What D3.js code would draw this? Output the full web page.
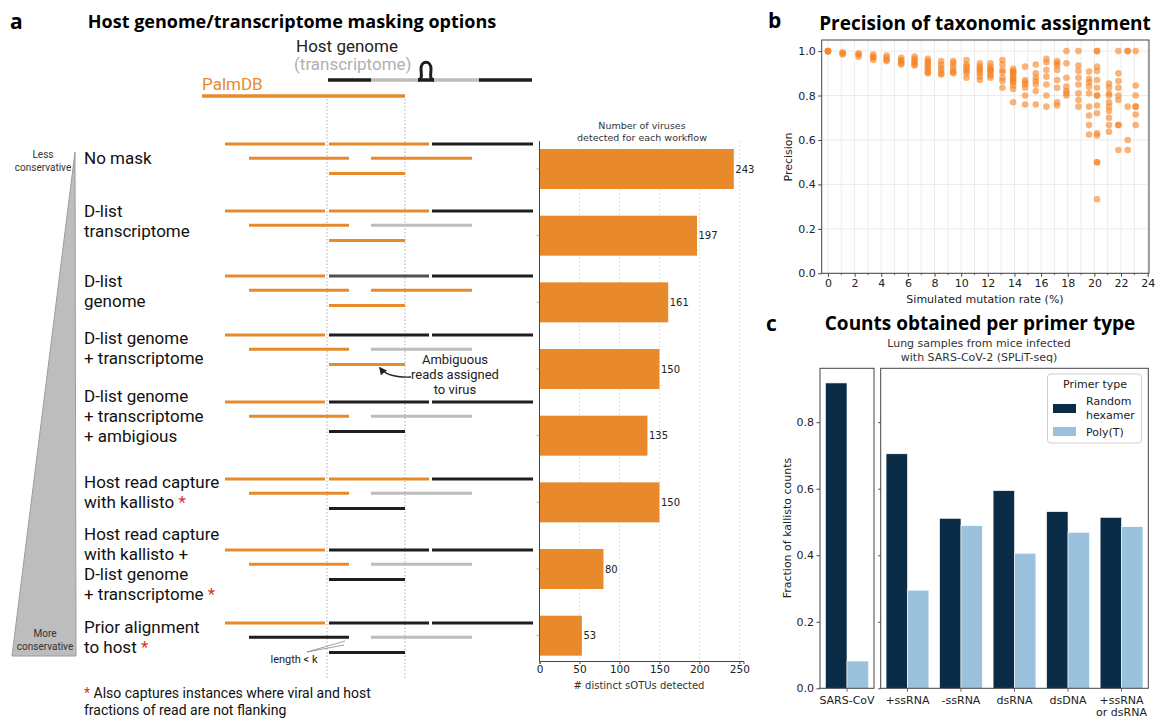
<!DOCTYPE html>
<html>
<head>
<meta charset="utf-8">
<script src="https://cdn.jsdelivr.net/npm/d3@7/dist/d3.min.js"></script>
<style>
  html, body { margin: 0; padding: 0; background: #fff; }
  svg { display: block; }
</style>
</head>
<body>
<svg id="figure" width="1159" height="719"></svg>
<script>
// ---------------- Panel a: masking workflows ----------------
const workflowLabels = [
  ["No mask"],
  ["D-list", "transcriptome"],
  ["D-list", "genome"],
  ["D-list genome", "+ transcriptome"],
  ["D-list genome", "+ transcriptome", "+ ambigious"],
  ["Host read capture", "with kallisto"],
  ["Host read capture", "with kallisto +", "D-list genome", "+ transcriptome"],
  ["Prior alignment", "to host"]
];
const workflowStarred = [false, false, false, false, false, true, true, true];
const sotusDetected = [243, 197, 161, 150, 135, 150, 80, 53];
const sotuTicks = [0, 50, 100, 150, 200, 250];
// Fate of each schematic read fragment under each workflow
// (v = viral, h = host genome, t = host transcriptome, m = masked genome)
const readFates = [
  ["v", "v", "h", "v", "v", "v"],
  ["v", "v", "h", "v", "t", "v"],
  ["v", "m", "h", "v", "v", "v"],
  ["v", "h", "h", "v", "t", "v"],
  ["v", "h", "h", "v", "t", "h"],
  ["v", "v", "h", "v", "t", "h"],
  ["v", "h", "h", "v", "t", "h"],
  ["v", "h", "h", "h", "t", "h"]
];

// ---------------- Panel b: precision vs mutation rate ----------------
const mutationRates = [0, 1.1, 2.3, 3.4, 4.4, 5.5, 6.5, 7.5, 8.5, 9.4, 10.4, 11.4, 12.2,
  13.1, 13.9, 14.8, 15.6, 16.4, 17.2, 17.9, 18.8, 19.6, 20.2, 21.1, 21.8, 22.5, 23.1];
const precisionValues = [
  [1.0, 1.0, 1.0, 0.998],
  [0.995, 0.99, 0.985],
  [0.99, 0.985, 0.975],
  [0.985, 0.975, 0.97, 0.96],
  [0.98, 0.97, 0.96, 0.955],
  [0.97, 0.96, 0.955, 0.945, 0.94],
  [0.975, 0.965, 0.955, 0.95, 0.94, 0.935],
  [0.965, 0.955, 0.945, 0.935, 0.925, 0.915, 0.905, 0.9],
  [0.955, 0.94, 0.925, 0.915, 0.9, 0.895],
  [0.955, 0.945, 0.93, 0.915, 0.905, 0.9],
  [0.96, 0.94, 0.93, 0.92, 0.91, 0.9, 0.88],
  [0.945, 0.93, 0.92, 0.91, 0.9, 0.885, 0.87],
  [0.945, 0.93, 0.92, 0.915, 0.91, 0.9, 0.89, 0.88],
  [0.96, 0.94, 0.915, 0.905, 0.88, 0.865, 0.835],
  [0.92, 0.91, 0.905, 0.9, 0.89, 0.88, 0.875, 0.865, 0.86, 0.845, 0.83, 0.77],
  [0.93, 0.87, 0.86, 0.85, 0.835, 0.8, 0.76],
  [0.94, 0.9, 0.88, 0.865, 0.85, 0.82, 0.76],
  [0.965, 0.95, 0.915, 0.885, 0.85, 0.8, 0.75],
  [0.955, 0.945, 0.935, 0.915, 0.87, 0.835, 0.77, 0.755],
  [1.0, 0.945, 0.88, 0.84, 0.82, 0.81, 0.8],
  [1.0, 0.935, 0.91, 0.88, 0.85, 0.81, 0.78, 0.75],
  [0.908, 0.875, 0.86, 0.84, 0.81, 0.75, 0.71, 0.667, 0.625],
  [1.0, 1.0, 0.93, 0.91, 0.87, 0.835, 0.8, 0.8, 0.755, 0.72, 0.63, 0.62, 0.5, 0.5, 0.333],
  [0.854, 0.836, 0.81, 0.8, 0.77, 0.75, 0.73, 0.7, 0.667, 0.637],
  [1.0, 0.9, 0.865, 0.835, 0.8, 0.78, 0.667, 0.667, 0.555],
  [1.0, 1.0, 0.75, 0.6, 0.555],
  [1.0, 0.845, 0.8, 0.75, 0.75, 0.715, 0.667]
];
const rateTicks = d3.range(0, 25, 2);
const precisionTicks = [0, 0.2, 0.4, 0.6, 0.8, 1.0];

// ---------------- Panel c: counts per primer type ----------------
const virusGroupsLeft = ["SARS-CoV"];
const virusGroupsRight = ["+ssRNA", "-ssRNA", "dsRNA", "dsDNA", "+ssRNA\nor dsRNA"];
const randomHexamerFrac = [0.918, 0.705, 0.511, 0.594, 0.531, 0.514];
const polyTFrac = [0.082, 0.295, 0.489, 0.406, 0.469, 0.486];
const fractionTicks = [0, 0.2, 0.4, 0.6, 0.8];
const primerTypes = ["Random\nhexamer", "Poly(T)"];

// ---------------- shared styling ----------------
const svg = d3.select("#figure");
const F_ROBOTO = "Roboto, 'Liberation Sans', Arial, sans-serif";
const F_MPL = "'DejaVu Sans', Verdana, sans-serif";
const F_TITLE = "'Open Sans', 'DejaVu Sans', sans-serif";
const ORANGE = "#e88a2c";
const NAVY = "#0a2c47";
const LIGHTBLUE = "#9ac2dc";
const AXIS = "#444";
const fateColor = { v: ORANGE, h: "#1e1e1e", t: "#bdbdbd", m: "#505050" };

function textLines(g, x, y, lines, gap) {
  const t = g.append("text").attr("x", x).attr("y", y).attr("dominant-baseline", "central");
  lines.forEach((s, i) => t.append("tspan").attr("x", x).attr("y", y + i * gap).text(s));
  return t;
}

// panel letters and titles
[["a", 10, 21], ["b", 768, 20], ["c", 766, 323]].forEach(([s, x, y]) => {
  svg.append("text").attr("x", x).attr("y", y).attr("dominant-baseline", "central")
    .attr("font-family", F_TITLE).attr("font-weight", 700).attr("font-size", 21).text(s);
});
[["Host genome/transcriptome masking options", 292, 21, 18],
 ["Precision of taxonomic assignment", 985, 23, 19],
 ["Counts obtained per primer type", 980, 323, 19]].forEach(([s, x, y, fs]) => {
  svg.append("text").attr("x", x).attr("y", y).attr("dominant-baseline", "central")
    .attr("text-anchor", "middle").attr("font-family", F_TITLE).attr("font-weight", 700)
    .attr("font-size", fs).text(s);
});

// ================= Panel a: schematic =================
const gA = svg.append("g");
// schematic coordinate along the reference (PalmDB starts at 0)
const diagX = d3.scaleLinear().domain([0, 330]).range([202, 532]);
const junctions = [125, 203];
const readSpans = [[23, 123], [127, 227], [230, 331], [47, 147], [169, 270], [127, 203]];
const readLevel = [0, 0, 0, 1, 1, 2];
const levelOffset = [0, 14.3, 29.6];
const rowTop = [144, 211, 276, 335, 402, 479, 550, 623];
const labelTop = [158, 211, 281, 338, 396, 482, 534, 627];

// dotted guides at the viral / host junctions
junctions.forEach(u => {
  gA.append("line").attr("x1", diagX(u)).attr("x2", diagX(u)).attr("y1", 99).attr("y2", 680)
    .attr("stroke", "#9a9a9a").attr("stroke-width", 0.8).attr("stroke-dasharray", "1.5,2");
});

// header: host genome with transcript loop, and PalmDB reference
gA.append("text").attr("x", 296).attr("y", 46).attr("dominant-baseline", "central")
  .attr("font-family", F_ROBOTO).attr("font-size", 17).attr("fill", "#222").text("Host genome");
gA.append("text").attr("x", 294).attr("y", 64).attr("dominant-baseline", "central")
  .attr("font-family", F_ROBOTO).attr("font-size", 17).attr("fill", "#b0b0b0").text("(transcriptome)");
const hostY = 80;
const hostParts = [[126, 169, "h"], [169, 216, "t"], [216, 232, "h"], [232, 277, "t"], [277, 330, "h"]];
hostParts.forEach(([a, b, f]) => {
  gA.append("line").attr("x1", diagX(a)).attr("x2", diagX(b)).attr("y1", hostY).attr("y2", hostY)
    .attr("stroke", fateColor[f]).attr("stroke-width", 3.5);
});
gA.append("path")
  .attr("d", `M${diagX(216)},${hostY} C${diagX(221)},${hostY} ${diagX(219)},${hostY - 7} ${diagX(219)},${hostY - 11} ` +
             `C${diagX(219)},${hostY - 20} ${diagX(229)},${hostY - 20} ${diagX(229)},${hostY - 11} ` +
             `C${diagX(229)},${hostY - 7} ${diagX(227)},${hostY} ${diagX(232)},${hostY}`)
  .attr("fill", "none").attr("stroke", "#1e1e1e").attr("stroke-width", 3);
gA.append("text").attr("x", diagX(0)).attr("y", 84).attr("dominant-baseline", "central")
  .attr("font-family", F_ROBOTO).attr("font-size", 17).attr("fill", ORANGE).text("PalmDB");
gA.append("line").attr("x1", diagX(0)).attr("x2", diagX(203)).attr("y1", 96).attr("y2", 96)
  .attr("stroke", ORANGE).attr("stroke-width", 3.5);

// reads for each workflow
readFates.forEach((fates, r) => {
  fates.forEach((f, k) => {
    const y = rowTop[r] + levelOffset[readLevel[k]];
    gA.append("line").attr("x1", diagX(readSpans[k][0])).attr("x2", diagX(readSpans[k][1]))
      .attr("y1", y).attr("y2", y).attr("stroke", fateColor[f]).attr("stroke-width", 3);
  });
});

// conservativeness wedge
gA.append("path").attr("d", "M75,152 L76,656 L12,656 Z")
  .attr("fill", "#bdbdbd").attr("stroke", "#9c9c9c").attr("stroke-width", 1);
textLines(gA, 43, 154, ["Less", "conservative"], 12.5).attr("text-anchor", "middle")
  .attr("font-family", F_ROBOTO).attr("font-size", 10).attr("fill", "#333");
textLines(gA, 45, 633, ["More", "conservative"], 12.5).attr("text-anchor", "middle")
  .attr("font-family", F_ROBOTO).attr("font-size", 10).attr("fill", "#333");

// workflow names
workflowLabels.forEach((lines, r) => {
  const t = textLines(gA, 84, labelTop[r], lines, 20)
    .attr("font-family", F_ROBOTO).attr("font-size", 17).attr("fill", "#111");
  if (workflowStarred[r]) {
    t.select("tspan:last-child").append("tspan").attr("fill", "#d9342b").text(" *");
  }
});

// annotation for ambiguous reads
textLines(gA, 455, 359, ["Ambiguous", "reads assigned", "to virus"], 15)
  .attr("text-anchor", "middle").attr("font-family", F_ROBOTO).attr("font-size", 13).attr("fill", "#222");
svg.append("defs").append("marker").attr("id", "head").attr("viewBox", "0 0 10 10")
  .attr("refX", 8).attr("refY", 5).attr("markerWidth", 6).attr("markerHeight", 6).attr("orient", "auto")
  .append("path").attr("d", "M0,0 L10,5 L0,10 Z").attr("fill", "#222");
gA.append("path").attr("d", "M411,377 Q388,378 380,368").attr("fill", "none")
  .attr("stroke", "#222").attr("stroke-width", 1.3).attr("marker-end", "url(#head)");

// "length < k" callout
gA.append("text").attr("x", 294).attr("y", 659).attr("text-anchor", "middle")
  .attr("dominant-baseline", "central").attr("font-family", F_ROBOTO).attr("font-size", 11)
  .attr("fill", "#222").text("length < k");
[[345, 641], [344, 645]].forEach(([x, y]) => {
  gA.append("line").attr("x1", 307).attr("y1", 652).attr("x2", x).attr("y2", y)
    .attr("stroke", "#888").attr("stroke-width", 0.8);
});

// footnote
const foot = textLines(gA, 84, 693, ["", "fractions of read are not flanking"], 17)
  .attr("font-family", F_ROBOTO).attr("font-size", 14).attr("fill", "#111");
const first = foot.select("tspan");
first.append("tspan").attr("fill", "#d9342b").text("*");
first.append("tspan").text(" Also captures instances where viral and host");

// ================= Panel a: bar chart =================
const gBar = svg.append("g");
const xA = d3.scaleLinear().domain([0, 255.15]).range([539.5, 743.5]);
const yA = d3.scaleLinear().domain([-0.42, 7.38]).range([141, 661]);
sotuTicks.filter(v => v > 0).forEach(v => {
  gBar.append("line").attr("x1", xA(v)).attr("x2", xA(v)).attr("y1", yA(-0.42)).attr("y2", yA(7.38))
    .attr("stroke", "#d5d5d5").attr("stroke-width", 0.8).attr("stroke-dasharray", "2,2");
});
gBar.selectAll("rect.bar").data(sotusDetected).join("rect").attr("class", "bar")
  .attr("x", xA(0)).attr("y", (d, i) => yA(i - 0.3))
  .attr("width", d => xA(d) - xA(0)).attr("height", (d, i) => yA(i + 0.3) - yA(i - 0.3))
  .attr("fill", ORANGE);
gBar.selectAll("text.val").data(sotusDetected).join("text").attr("class", "val")
  .attr("x", d => xA(d) + 1.5).attr("y", (d, i) => yA(i)).attr("dominant-baseline", "central")
  .attr("font-family", F_MPL).attr("font-size", 10).attr("fill", "#222").text(d => d);
// left spine with small ticks at each workflow
gBar.append("line").attr("x1", xA(0)).attr("x2", xA(0)).attr("y1", yA(-0.42)).attr("y2", yA(7.38))
  .attr("stroke", AXIS).attr("stroke-width", 1);
sotusDetected.forEach((d, i) => {
  gBar.append("line").attr("x1", xA(0) - 3).attr("x2", xA(0)).attr("y1", yA(i)).attr("y2", yA(i))
    .attr("stroke", "#888").attr("stroke-width", 0.6);
});
const axA = gBar.append("g").attr("transform", `translate(0,${yA(7.38)})`)
  .call(d3.axisBottom(xA).tickValues(sotuTicks).tickSize(3).tickPadding(2));
axA.select(".domain").attr("stroke", AXIS);
axA.selectAll(".tick line").attr("stroke", AXIS);
axA.selectAll(".tick text").attr("font-family", F_MPL).attr("font-size", 10.5).attr("fill", "#222");
gBar.append("text").attr("x", 639).attr("y", 685).attr("text-anchor", "middle")
  .attr("dominant-baseline", "central").attr("font-family", F_MPL).attr("font-size", 10)
  .attr("fill", "#333").text("# distinct sOTUs detected");
textLines(gBar, 642, 125, ["Number of viruses", "detected for each workflow"], 11.5)
  .attr("text-anchor", "middle").attr("font-family", F_MPL).attr("font-size", 9.5).attr("fill", "#333");

// ================= Panel b: scatter =================
const gB = svg.append("g");
const xB = d3.scaleLinear().domain([-0.47, 24.1]).range([821.7, 1149]);
const yB = d3.scaleLinear().domain([0, 1.05]).range([273.3, 40]);
d3.range(0, 25).forEach(v => {
  gB.append("line").attr("x1", xB(v)).attr("x2", xB(v)).attr("y1", yB(0)).attr("y2", yB(1.05))
    .attr("stroke", "#ececec").attr("stroke-width", 1);
});
precisionTicks.forEach(v => {
  gB.append("line").attr("x1", xB(-0.47)).attr("x2", xB(24.1)).attr("y1", yB(v)).attr("y2", yB(v))
    .attr("stroke", "#ececec").attr("stroke-width", 1);
});
const points = [];
mutationRates.forEach((r, i) => precisionValues[i].forEach(p => points.push([r, p])));
gB.selectAll("circle").data(points).join("circle")
  .attr("cx", d => xB(d[0])).attr("cy", d => yB(d[1])).attr("r", 3.3)
  .attr("fill", "#f5821f").attr("fill-opacity", 0.6);
gB.append("rect").attr("x", xB(-0.47)).attr("y", yB(1.05)).attr("width", xB(24.1) - xB(-0.47))
  .attr("height", yB(0) - yB(1.05)).attr("fill", "none").attr("stroke", AXIS).attr("stroke-width", 1);
const axBx = gB.append("g").attr("transform", `translate(0,${yB(0)})`)
  .call(d3.axisBottom(xB).tickValues(rateTicks).tickSize(3.5).tickPadding(2.5));
axBx.select(".domain").remove();
d3.range(1, 24, 2).forEach(v => {
  gB.append("line").attr("x1", xB(v)).attr("x2", xB(v)).attr("y1", yB(0)).attr("y2", yB(0) + 2)
    .attr("stroke", AXIS).attr("stroke-width", 0.8);
});
const axBy = gB.append("g").attr("transform", `translate(${xB(-0.47)},0)`)
  .call(d3.axisLeft(yB).tickValues(precisionTicks).tickFormat(d3.format(".1f")).tickSize(3.5).tickPadding(2.5));
axBy.select(".domain").remove();
[axBx, axBy].forEach(a => {
  a.selectAll(".tick line").attr("stroke", AXIS);
  a.selectAll(".tick text").attr("font-family", F_MPL).attr("font-size", 11).attr("fill", "#222");
});
gB.append("text").attr("x", 985).attr("y", 299).attr("text-anchor", "middle")
  .attr("dominant-baseline", "central").attr("font-family", F_MPL).attr("font-size", 11)
  .attr("fill", "#222").text("Simulated mutation rate (%)");
gB.append("text").attr("transform", `translate(788,157) rotate(-90)`).attr("text-anchor", "middle")
  .attr("dominant-baseline", "central").attr("font-family", F_MPL).attr("font-size", 11)
  .attr("fill", "#222").text("Precision");

// ================= Panel c: grouped bars =================
const gC = svg.append("g");
const yC = d3.scaleLinear().domain([0, 0.962]).range([688.3, 368.3]);
textLines(gC, 979, 343, ["Lung samples from mice infected", "with SARS-CoV-2 (SPLiT-seq)"], 13.5)
  .attr("text-anchor", "middle").attr("font-family", F_MPL).attr("font-size", 11).attr("fill", "#333");

function groupedPanel(groups, offset, x0, x1, pad, withLabels) {
  const g = gC.append("g");
  const x = d3.scaleBand().domain(groups).range([x0, x1]).paddingInner(0.2).paddingOuter(pad);
  groups.forEach((grp, i) => {
    const k = offset + i;
    const half = x.bandwidth() / 2;
    g.append("rect").attr("x", x(grp)).attr("y", yC(randomHexamerFrac[k])).attr("width", half)
      .attr("height", yC(0) - yC(randomHexamerFrac[k])).attr("fill", NAVY)
      .attr("stroke", "#ffffff").attr("stroke-width", 0.6);
    g.append("rect").attr("x", x(grp) + half).attr("y", yC(polyTFrac[k])).attr("width", half)
      .attr("height", yC(0) - yC(polyTFrac[k])).attr("fill", LIGHTBLUE)
      .attr("stroke", "#ffffff").attr("stroke-width", 0.6);
    const cx = x(grp) + half;
    g.append("line").attr("x1", cx).attr("x2", cx).attr("y1", yC(0)).attr("y2", yC(0) + 3.5)
      .attr("stroke", AXIS).attr("stroke-width", 0.8);
    textLines(g, cx, 699.5, grp.split("\n"), 12.5).attr("text-anchor", "middle")
      .attr("font-family", F_MPL).attr("font-size", 11).attr("fill", "#222");
  });
  g.append("rect").attr("x", x0).attr("y", yC(0.962)).attr("width", x1 - x0)
    .attr("height", yC(0) - yC(0.962)).attr("fill", "none").attr("stroke", AXIS).attr("stroke-width", 1);
  const ay = g.append("g").attr("transform", `translate(${x0},0)`)
    .call(d3.axisLeft(yC).tickValues(fractionTicks).tickFormat(withLabels ? d3.format(".1f") : () => "")
      .tickSize(withLabels ? 3.5 : 2.5).tickPadding(2.5));
  ay.select(".domain").remove();
  ay.selectAll(".tick line").attr("stroke", AXIS);
  ay.selectAll(".tick text").attr("font-family", F_MPL).attr("font-size", 11).attr("fill", "#222");
}
groupedPanel(virusGroupsLeft, 0, 820, 874, 0.08, true);
groupedPanel(virusGroupsRight, 1, 880.7, 1148.3, 0.1, false);

gC.append("text").attr("transform", `translate(787,528) rotate(-90)`).attr("text-anchor", "middle")
  .attr("dominant-baseline", "central").attr("font-family", F_MPL).attr("font-size", 11)
  .attr("fill", "#222").text("Fraction of kallisto counts");

// legend
const lg = gC.append("g");
lg.append("rect").attr("x", 1047.5).attr("y", 374).attr("width", 94).attr("height", 69).attr("rx", 3)
  .attr("fill", "#fff").attr("fill-opacity", 0.85).attr("stroke", "#cfcfcf").attr("stroke-width", 1);
lg.append("text").attr("x", 1095).attr("y", 384).attr("text-anchor", "middle").attr("dominant-baseline", "central")
  .attr("font-family", F_MPL).attr("font-size", 11).attr("fill", "#222").text("Primer type");
[[NAVY, 404, 401], [LIGHTBLUE, 427, 432]].forEach(([c, py, ty], i) => {
  lg.append("rect").attr("x", 1053).attr("y", py).attr("width", 23).attr("height", 9).attr("fill", c);
  textLines(lg, 1086, ty, primerTypes[i].split("\n"), 13.5)
    .attr("font-family", F_MPL).attr("font-size", 11).attr("fill", "#222");
});
</script>
</body>
</html>
